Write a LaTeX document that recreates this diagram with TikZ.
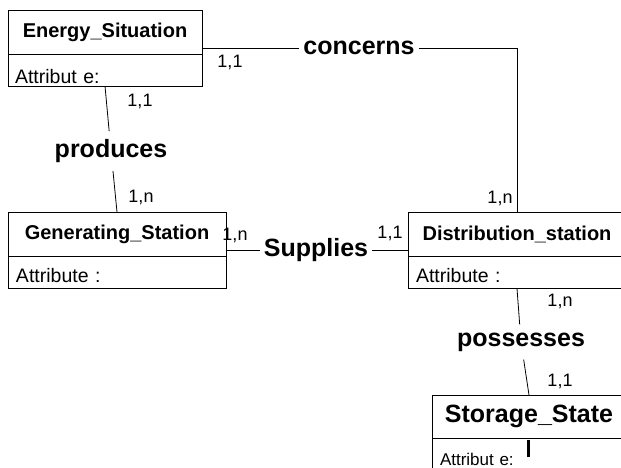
\documentclass[tikz,border=0pt]{standalone}
\usepackage{fontspec}
\setmainfont{Liberation Sans}
\usetikzlibrary{positioning}

\tikzset{
  entity/.style={draw, rectangle, line width=0.8pt, outer sep=0pt, anchor=north west, font=\fontsize{20}{22}\selectfont\bfseries},
  attr/.style={draw, rectangle, line width=0.8pt, outer sep=0pt, align=left, inner xsep=8pt, inner ysep=2pt, text height=20pt, text depth=0pt, minimum height=32pt, font=\fontsize{19.5}{21}\selectfont},
  rel/.style={inner xsep=4pt, inner ysep=8pt, font=\fontsize{25}{27}\selectfont\bfseries},
  card/.style={font=\fontsize{18}{20}\selectfont},
  link/.style={line width=0.8pt}
}

\begin{document}
\begin{tikzpicture}[x=1pt,y=-1pt]
            \useasboundingbox (0,0) rectangle (621,468);
            \clip (0,0) rectangle (621,468);

            \node[entity, minimum width=194pt, minimum height=44pt] (energy) at (8,10) {Energy\_Situation};
            \node[attr, minimum width=194pt, text width=180pt, inner xsep=7pt, text height=28pt, below=0pt of energy] (energy-attr) {Attribut e:};

            \node[entity, minimum width=218pt, minimum height=44pt] (generating) at (8,212) {Generating\_Station};
            \node[attr, minimum width=218pt, text width=202pt, below=0pt of generating] (generating-attr) {Attribute :};

            \node[entity, minimum width=218pt, minimum height=44.5pt] (distribution) at (408,212) {Distribution\_station};
            \node[attr, minimum width=218pt, text width=202pt, below=0pt of distribution] (distribution-attr) {Attribute :};

            \node[entity, minimum width=194pt, minimum height=43pt, font=\fontsize{25}{27}\selectfont\bfseries] (storage) at (432,395) {Storage\_State};
            \node[attr, minimum width=194pt, text width=178pt, text height=22pt, font=\fontsize{17}{19}\selectfont, below=0pt of storage] (storage-attr) {Attribut e:};

            % relations
            \node[rel] (concerns) at (359,48) {concerns};
            \draw[link] (concerns) -- (energy.east |- concerns);
            \draw[link] (concerns) -| (distribution);
            \node[card] (concerns-es) at (230,62) {1,1};
            \node[card] (concerns-ds) at (500,198) {1,n};

            \node[rel] (produces) at (111,151) {produces};
            \draw[link] (energy-attr.south) -- (produces);
            \draw[link] (produces) -- (generating.north);
            \node[card] (produces-es) at (140,101) {1,1};
            \node[card] (produces-gs) at (141,197) {1,n};

            \node[rel] (supplies) at (316,250) {Supplies};
            \draw[link] (supplies) -- (generating.east |- supplies);
            \draw[link] (supplies) -- (distribution.west |- supplies);
            \node[card] (supplies-gs) at (235,235) {1,n};
            \node[card] (supplies-ds) at (390,233) {1,1};

            \node[rel] (possesses) at (521,342) {possesses};
            \draw[link] (distribution-attr.south) -- (possesses);
            \draw[link] (possesses) -- (storage.north);
            \node[card] (possesses-ds) at (560,301) {1,n};
            \node[card] (possesses-ss) at (560,381) {1,1};

            \draw[line width=3pt] (528,440) -- (528,457);
\end{tikzpicture}
\end{document}
